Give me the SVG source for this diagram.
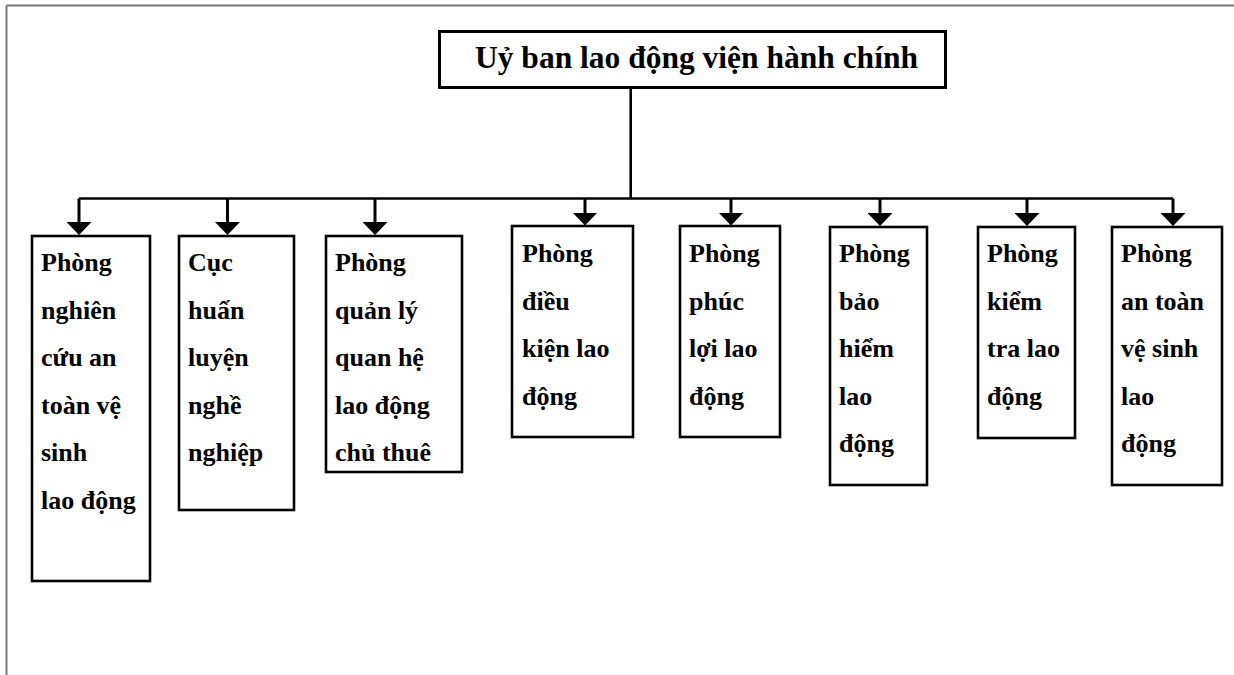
<svg xmlns="http://www.w3.org/2000/svg" width="1234" height="675" viewBox="0 0 1234 675">
  <style>
    .frame { fill: none; stroke: #7a7a7a; stroke-width: 2; }
    .box { fill: #ffffff; stroke: #000000; stroke-width: 2.6; }
    .head { fill: #ffffff; stroke: #000000; stroke-width: 3; }
    .wire { fill: none; stroke: #000000; stroke-width: 2.6; }
    .stem { fill: none; stroke: #000000; stroke-width: 3; marker-end: url(#arrow); }
    .title { font-family: "Liberation Serif", "Times New Roman", serif; font-weight: bold; font-size: 31.5px; fill: #000; }
    .label { font-family: "Liberation Serif", "Times New Roman", serif; font-weight: bold; font-size: 26px; fill: #000; }
  </style>
  <defs>
    <marker id="arrow" viewBox="0 0 13 25" refX="3" refY="12.5" markerWidth="13" markerHeight="25" markerUnits="userSpaceOnUse" orient="auto">
      <path d="M0,0 L13,12.5 L0,25 Z" fill="#000"/>
    </marker>
  </defs>

  <rect width="1234" height="675" fill="#ffffff"/>

  <!-- page frame -->
  <path class="frame" d="M6.5,5.5 H1234 M6.5,5.5 V675"/>

  <!-- connectors -->
  <g id="connectors">
    <path class="wire" d="M630.7,89 V198.5"/>
    <path class="wire" d="M79,198.5 H1173"/>
    <path class="stem" d="M79,198.5 V225"/>
    <path class="stem" d="M227.5,198.5 V225"/>
    <path class="stem" d="M375,198.5 V225"/>
    <path class="stem" d="M585,198.5 V215.5"/>
    <path class="stem" d="M731,198.5 V215.5"/>
    <path class="stem" d="M880,198.5 V216"/>
    <path class="stem" d="M1027,198.5 V216"/>
    <path class="stem" d="M1173,198.5 V216"/>
  </g>

  <!-- root node -->
  <g id="root">
    <rect class="head" x="439.5" y="31.5" width="506" height="56"/>
    <text class="title" x="475" y="68.3">Uỷ ban lao động viện hành chính</text>
  </g>

  <g id="n1">
    <rect class="box" x="32" y="236" width="118" height="345"/>
    <text class="label" y="271">
      <tspan x="41">Phòng</tspan>
      <tspan x="41" dy="47.6">nghiên</tspan>
      <tspan x="41" dy="47.6">cứu an</tspan>
      <tspan x="41" dy="47.6">toàn vệ</tspan>
      <tspan x="41" dy="47.6">sinh</tspan>
      <tspan x="41" dy="47.6">lao động</tspan>
    </text>
  </g>

  <g id="n2">
    <rect class="box" x="179" y="236" width="115" height="274"/>
    <text class="label" y="271">
      <tspan x="188">Cục</tspan>
      <tspan x="188" dy="47.6">huấn</tspan>
      <tspan x="188" dy="47.6">luyện</tspan>
      <tspan x="188" dy="47.6">nghề</tspan>
      <tspan x="188" dy="47.6">nghiệp</tspan>
    </text>
  </g>

  <g id="n3">
    <rect class="box" x="326" y="236" width="136" height="236"/>
    <text class="label" y="271">
      <tspan x="335">Phòng</tspan>
      <tspan x="335" dy="47.6">quản lý</tspan>
      <tspan x="335" dy="47.6">quan hệ</tspan>
      <tspan x="335" dy="47.6">lao động</tspan>
      <tspan x="335" dy="47.6">chủ thuê</tspan>
    </text>
  </g>

  <g id="n4">
    <rect class="box" x="512" y="226" width="121" height="211"/>
    <text class="label" y="262">
      <tspan x="522">Phòng</tspan>
      <tspan x="522" dy="47.6">điều</tspan>
      <tspan x="522" dy="47.6">kiện lao</tspan>
      <tspan x="522" dy="47.6">động</tspan>
    </text>
  </g>

  <g id="n5">
    <rect class="box" x="680" y="226" width="100" height="211"/>
    <text class="label" y="262">
      <tspan x="689">Phòng</tspan>
      <tspan x="689" dy="47.6">phúc</tspan>
      <tspan x="689" dy="47.6">lợi lao</tspan>
      <tspan x="689" dy="47.6">động</tspan>
    </text>
  </g>

  <g id="n6">
    <rect class="box" x="830" y="227" width="97" height="258"/>
    <text class="label" y="262">
      <tspan x="839">Phòng</tspan>
      <tspan x="839" dy="47.6">bảo</tspan>
      <tspan x="839" dy="47.6">hiểm</tspan>
      <tspan x="839" dy="47.6">lao</tspan>
      <tspan x="839" dy="47.6">động</tspan>
    </text>
  </g>

  <g id="n7">
    <rect class="box" x="978" y="227" width="97" height="211"/>
    <text class="label" y="262">
      <tspan x="987">Phòng</tspan>
      <tspan x="987" dy="47.6">kiểm</tspan>
      <tspan x="987" dy="47.6">tra lao</tspan>
      <tspan x="987" dy="47.6">động</tspan>
    </text>
  </g>

  <g id="n8">
    <rect class="box" x="1112" y="227" width="110" height="258"/>
    <text class="label" y="262">
      <tspan x="1121">Phòng</tspan>
      <tspan x="1121" dy="47.6">an toàn</tspan>
      <tspan x="1121" dy="47.6">vệ sinh</tspan>
      <tspan x="1121" dy="47.6">lao</tspan>
      <tspan x="1121" dy="47.6">động</tspan>
    </text>
  </g>
</svg>
